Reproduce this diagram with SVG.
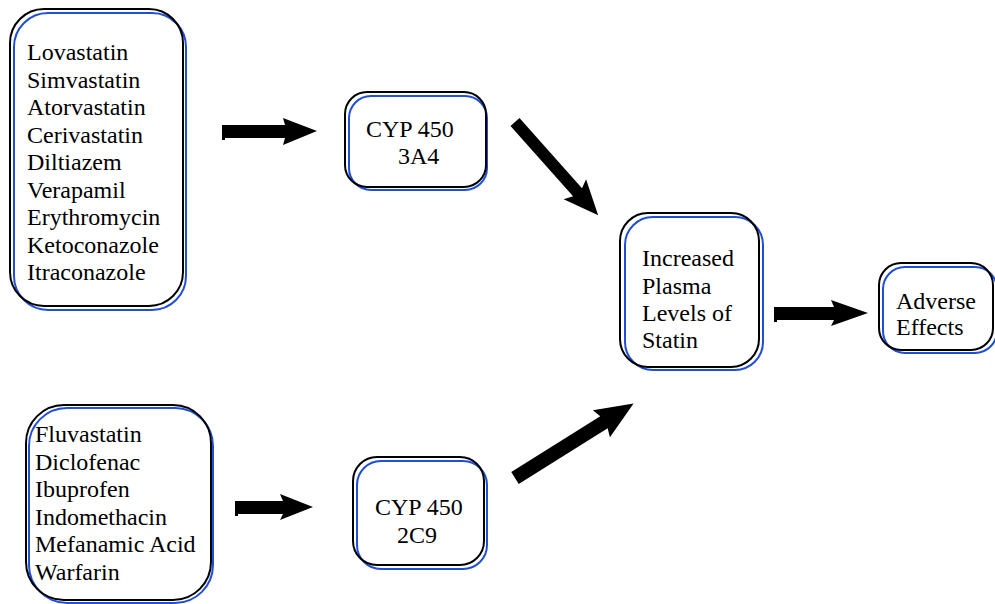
<svg xmlns="http://www.w3.org/2000/svg" width="995" height="604" viewBox="0 0 995 604">
<style>
.b{fill:none;stroke:#000;stroke-width:2}
.u{fill:none;stroke:#1f4fd8;stroke-width:2}
.t{font-family:"Liberation Serif","Times New Roman",serif;font-size:24px;fill:#000}
.a{fill:#000}
</style>
<rect width="995" height="604" fill="#fff"/>
<g id="node-inhibitors-3a4">
<rect class="u" x="14" y="13" width="172" height="297" rx="34"/>
<rect class="b" x="10" y="9" width="173" height="297" rx="34"/>
<text class="t" x="27" y="60">Lovastatin</text>
<text class="t" x="27" y="87.5">Simvastatin</text>
<text class="t" x="27" y="115">Atorvastatin</text>
<text class="t" x="27" y="142.5">Cerivastatin</text>
<text class="t" x="27" y="170">Diltiazem</text>
<text class="t" x="27" y="197.5">Verapamil</text>
<text class="t" x="27" y="225">Erythromycin</text>
<text class="t" x="27" y="252.5">Ketoconazole</text>
<text class="t" x="27" y="280">Itraconazole</text>
</g>
<g id="node-cyp3a4">
<rect class="u" x="349" y="96" width="138" height="94" rx="22"/>
<rect class="b" x="345" y="92" width="141" height="95" rx="22"/>
<text class="t" x="366" y="137">CYP 450</text>
<text class="t" x="398" y="164">3A4</text>
</g>
<g id="node-plasma">
<rect class="u" x="625" y="217" width="138" height="153" rx="28"/>
<rect class="b" x="620" y="213" width="139" height="154" rx="28"/>
<text class="t" x="642" y="266">Increased</text>
<text class="t" x="642" y="293.5">Plasma</text>
<text class="t" x="642" y="321">Levels of</text>
<text class="t" x="642" y="348">Statin</text>
</g>
<g id="node-adverse">
<rect class="u" x="883" y="267" width="114" height="86" rx="22"/>
<rect class="b" x="879" y="263" width="114" height="87" rx="22"/>
<text class="t" x="896" y="309">Adverse</text>
<text class="t" x="896" y="335">Effects</text>
</g>
<g id="node-inhibitors-2c9">
<rect class="u" x="29" y="408" width="184" height="195" rx="38"/>
<rect class="b" x="26" y="405" width="185" height="195" rx="38"/>
<text class="t" x="35" y="442">Fluvastatin</text>
<text class="t" x="35" y="469.6">Diclofenac</text>
<text class="t" x="35" y="497.2">Ibuprofen</text>
<text class="t" x="35" y="524.8">Indomethacin</text>
<text class="t" x="35" y="552.4">Mefanamic Acid</text>
<text class="t" x="35" y="580">Warfarin</text>
</g>
<g id="node-cyp2c9">
<rect class="u" x="357" y="461" width="130" height="108" rx="24"/>
<rect class="b" x="353" y="457" width="131" height="108" rx="24"/>
<text class="t" x="375" y="515">CYP 450</text>
<text class="t" x="397" y="543">2C9</text>
</g>
<g id="connectors">
<polygon class="a" transform="translate(222,131)" points="0,-6 63,-6 61,-13 95,0 61,14 63,7 3,7 3,9 0,9"/>
<polygon class="a" transform="translate(515,122) rotate(48.3)" points="0,-6 94,-6 90,-15 125,0 90,15 94,6 0,6"/>
<polygon class="a" transform="translate(515,478) rotate(-32.1)" points="0,-7 105,-7 102,-16 140,0 102,16 105,7 0,7"/>
<polygon class="a" transform="translate(774,313) rotate(0)" points="0,-6 60,-6 57,-13 94,0 57,13 60,7 3,7 3,9 0,9"/>
<polygon class="a" transform="translate(235,507) rotate(0)" points="0,-6 48,-6 45,-13 78,0 45,13 48,7 3,7 3,9 0,9"/>
</g>
</svg>
